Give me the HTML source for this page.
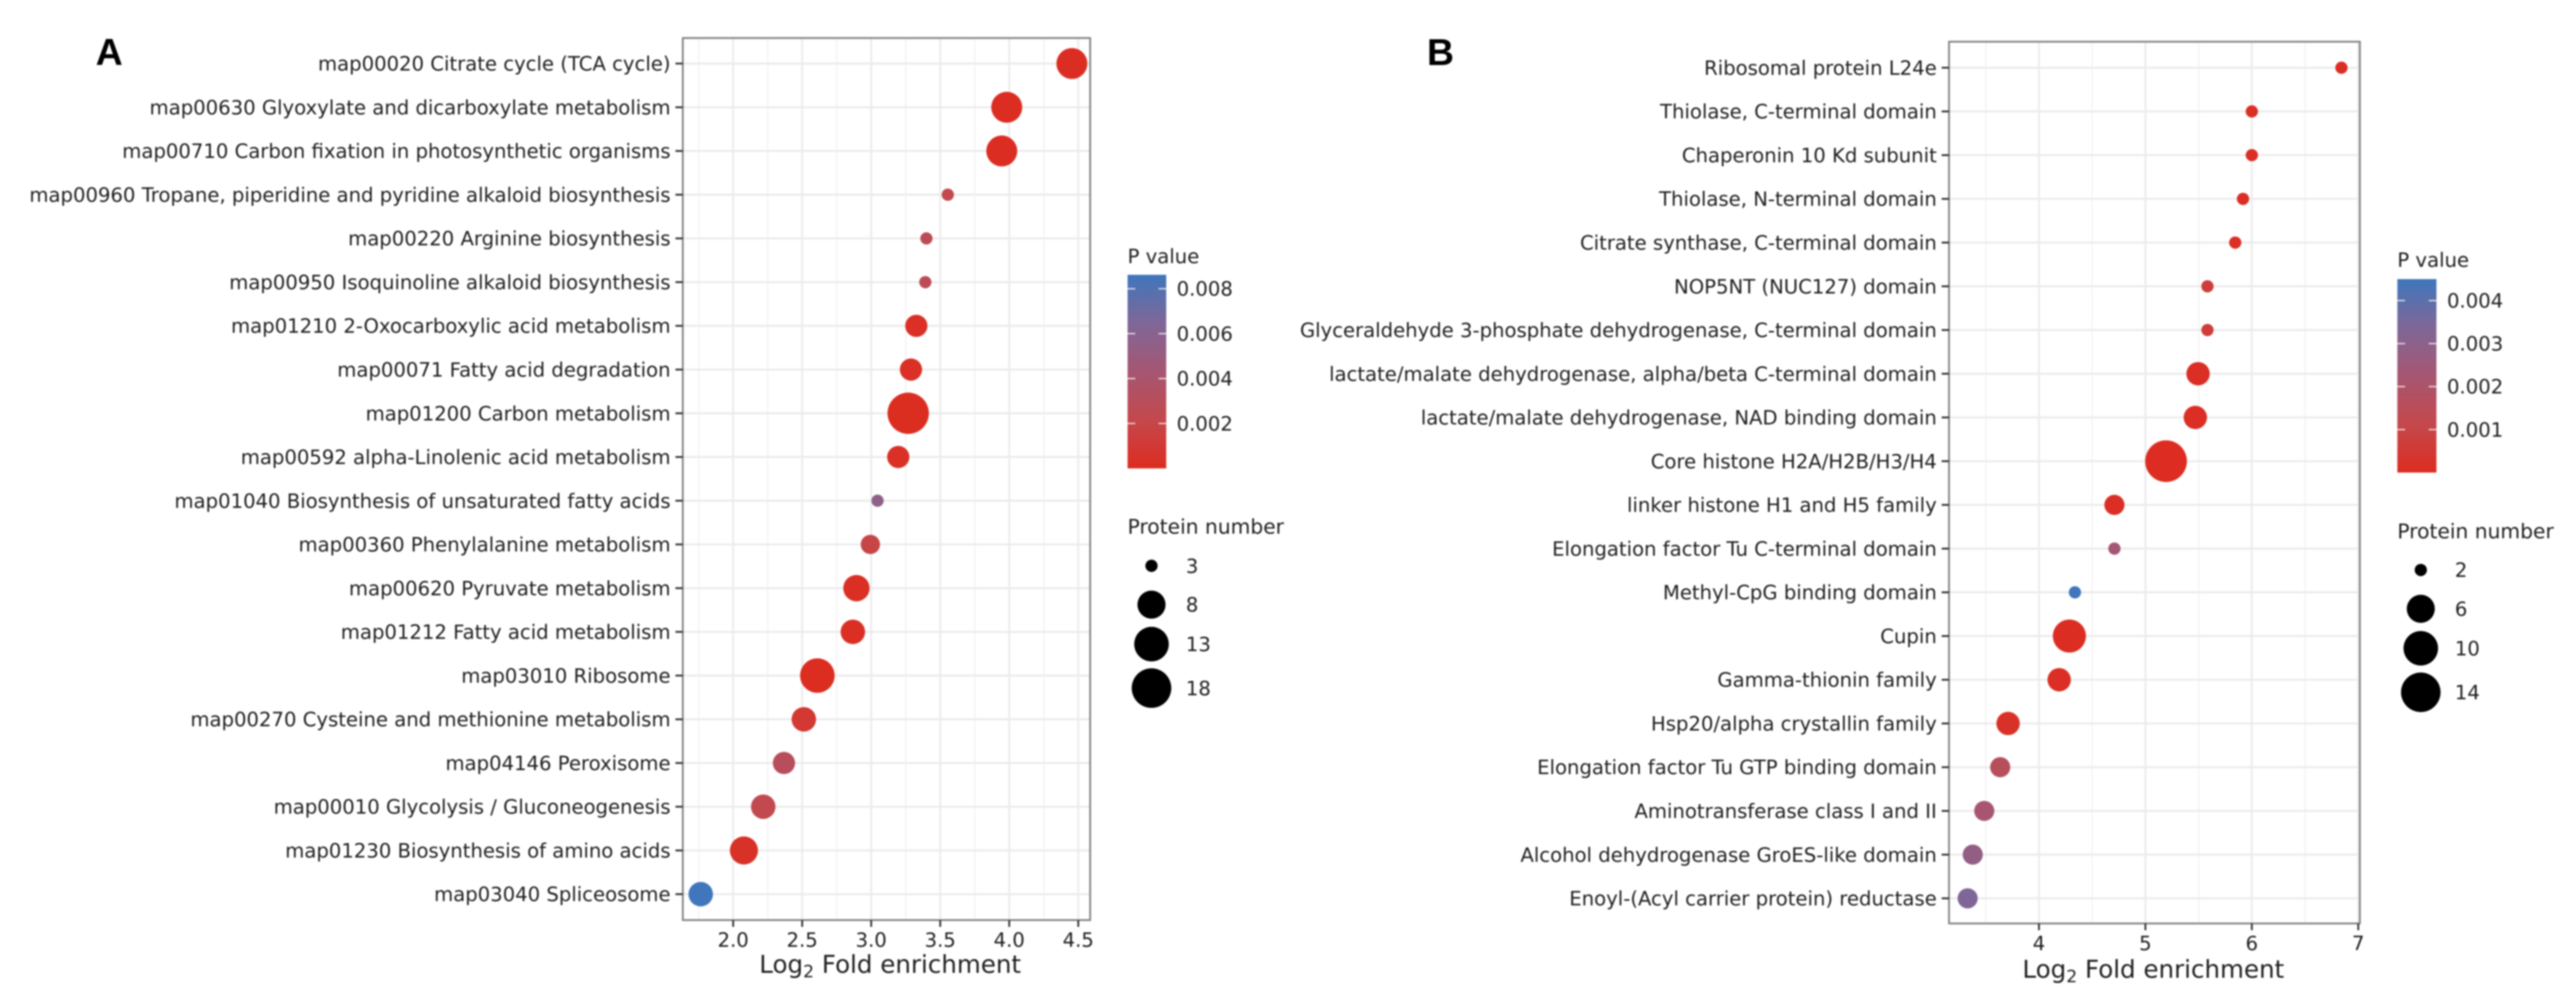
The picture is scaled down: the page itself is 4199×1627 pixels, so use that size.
<!DOCTYPE html>
<html lang="en">
<head>
<meta charset="utf-8">
<title>Enrichment bubble charts</title>
<style>
html,body{margin:0;padding:0;background:#fff}
svg{display:block;filter:blur(1.3px)}
text{font-family:"DejaVu Sans","Liberation Sans",sans-serif;fill:#1f1f1f}
</style>
</head>
<body>
<svg id="fig" xmlns="http://www.w3.org/2000/svg" width="4199" height="1627" viewBox="0 0 4199 1627">
  <defs>
    <linearGradient id="pGrad" x1="0" y1="1" x2="0" y2="0">
      <stop offset="0" stop-color="#dd2c20"/>
      <stop offset="0.25" stop-color="#c4484c"/>
      <stop offset="0.5" stop-color="#a65672"/>
      <stop offset="0.75" stop-color="#7f6797"/>
      <stop offset="1" stop-color="#3f76bc"/>
    </linearGradient>
  </defs>
  <rect width="4199" height="1627" fill="#fff"/>
  <text x="156" y="106" style="font-family:'Liberation Sans',sans-serif;font-weight:bold;font-size:61px;fill:#000">A</text>
  <text x="2326" y="106" style="font-family:'Liberation Sans',sans-serif;font-weight:bold;font-size:61px;fill:#000">B</text>
  <g id="panelA"></g>
  <g id="panelB"></g>
</svg>
<script>
/* ---------- Panel A data ---------- */
const categoriesA = [
  "map00020 Citrate cycle (TCA cycle)",
  "map00630 Glyoxylate and dicarboxylate metabolism",
  "map00710 Carbon fixation in photosynthetic organisms",
  "map00960 Tropane, piperidine and pyridine alkaloid biosynthesis",
  "map00220 Arginine biosynthesis",
  "map00950 Isoquinoline alkaloid biosynthesis",
  "map01210 2-Oxocarboxylic acid metabolism",
  "map00071 Fatty acid degradation",
  "map01200 Carbon metabolism",
  "map00592 alpha-Linolenic acid metabolism",
  "map01040 Biosynthesis of unsaturated fatty acids",
  "map00360 Phenylalanine metabolism",
  "map00620 Pyruvate metabolism",
  "map01212 Fatty acid metabolism",
  "map03010 Ribosome",
  "map00270 Cysteine and methionine metabolism",
  "map04146 Peroxisome",
  "map00010 Glycolysis / Gluconeogenesis",
  "map01230 Biosynthesis of amino acids",
  "map03040 Spliceosome"
];
const foldA = [4.454,3.982,3.946,3.555,3.40,3.392,3.327,3.288,3.268,3.196,3.046,2.994,2.893,2.867,2.61,2.512,2.368,2.218,2.078,1.765];
const countA = [10,10,10,3,3,3,5,5,20,5,3,4,7,6,13,6,5,6,8,6];
const pvalA = [0.0001,0.0001,0.0001,0.0023,0.0028,0.0028,0.0003,0.0003,0.00005,0.0003,0.0056,0.0019,0.0002,0.0002,0.00005,0.0009,0.003,0.0023,0.0004,0.0086];
const xTicksA = [2.0,2.5,3.0,3.5,4.0,4.5];
const xMinorA = [1.75,2.25,2.75,3.25,3.75,4.25];
const pBreaksA = [0.002,0.004,0.006,0.008];
const sizeBreaksA = [3,8,13,18];

/* ---------- Panel B data ---------- */
const categoriesB = [
  "Ribosomal protein L24e",
  "Thiolase, C-terminal domain",
  "Chaperonin 10 Kd subunit",
  "Thiolase, N-terminal domain",
  "Citrate synthase, C-terminal domain",
  "NOP5NT (NUC127) domain",
  "Glyceraldehyde 3-phosphate dehydrogenase, C-terminal domain",
  "lactate/malate dehydrogenase, alpha/beta C-terminal domain",
  "lactate/malate dehydrogenase, NAD binding domain",
  "Core histone H2A/H2B/H3/H4",
  "linker histone H1 and H5 family",
  "Elongation factor Tu C-terminal domain",
  "Methyl-CpG binding domain",
  "Cupin",
  "Gamma-thionin family",
  "Hsp20/alpha crystallin family",
  "Elongation factor Tu GTP binding domain",
  "Aminotransferase class I and II",
  "Alcohol dehydrogenase GroES-like domain",
  "Enoyl-(Acyl carrier protein) reductase"
];
const foldB = [6.842,6.0,6.0,5.917,5.844,5.583,5.583,5.495,5.469,5.194,4.709,4.709,4.338,4.286,4.19,3.71,3.636,3.486,3.378,3.33];
const countB = [2,2,2,2,2,2,2,4,4,16,3,2,2,9,4,4,3,3,3,3];
const pvalB = [0.0001,0.0001,0.0001,0.0001,0.0001,0.0007,0.0007,0.0001,0.0001,0.00002,0.0001,0.0023,0.0045,0.00005,0.0001,0.0002,0.0016,0.0022,0.0028,0.0034];
const xTicksB = [4,5,6,7];
const xMinorB = [3.5,4.5,5.5,6.5];
const pBreaksB = [0.001,0.002,0.003,0.004];
const sizeBreaksB = [2,6,10,14];

/* ---------- Shared colour ramp ---------- */
const rampPos = [0,0.25,0.5,0.75,1];
const rampRGB = [[221,44,32],[196,72,76],[166,86,114],[127,103,151],[63,118,188]];
function rampColor(t){
  t = Math.max(0,Math.min(1,t));
  let i = 0;
  while(i < rampPos.length-2 && t > rampPos[i+1]) i++;
  const f = (t-rampPos[i])/(rampPos[i+1]-rampPos[i]);
  const c = rampRGB[i].map((v,k)=>Math.round(v+(rampRGB[i+1][k]-v)*f));
  return 'rgb('+c.join(',')+')';
}

const NS = 'http://www.w3.org/2000/svg';
function mk(parent,tag,attrs,txt){
  const el = document.createElementNS(NS,tag);
  for(const k in attrs) el.setAttribute(k,attrs[k]);
  if(txt!==undefined) el.textContent = txt;
  parent.appendChild(el);
  return el;
}

function drawPanel(root,d,L){
  const x = v => L.x2 + (v-L.v2)*L.xPerUnit;
  const y = i => L.y0 + i*L.yStep;
  const r = n => L.rMin + (L.rMax-L.rMin)*Math.sqrt((n-L.nMin)/(L.nMax-L.nMin));
  const pc = p => rampColor(p/L.pTop);
  const n = d.cats.length;

  /* minor vertical grid */
  d.minor.forEach(v=>{
    const g = mk(root,'line',{x1:x(v),x2:x(v),y1:L.top,y2:L.bottom,stroke:'#f1f1f1','stroke-width':1.8});
    
    
  });
  /* major vertical grid */
  d.ticks.forEach(v=>{
    if(x(v)<L.left||x(v)>L.right) return;
    const g = mk(root,'line',{x1:x(v),x2:x(v),y1:L.top,y2:L.bottom,stroke:'#ebebeb','stroke-width':3});
    
    
  });
  /* horizontal grid */
  for(let i=0;i<n;i++){
    const g = mk(root,'line',{x1:L.left,x2:L.right,y1:y(i),y2:y(i),stroke:'#ebebeb','stroke-width':3.2});
    
    
  }
  /* points */
  for(let i=0;i<n;i++){
    const c = mk(root,'circle',{cx:x(d.fold[i]),cy:y(i),r:r(d.count[i]),fill:pc(d.pval[i])});
    
    
  }
  /* panel border */
  const b = mk(root,'rect',{x:L.left,y:L.top,width:L.right-L.left,height:L.bottom-L.top,fill:'none',stroke:'#858585','stroke-width':3});
  
  

  /* y axis */
  for(let i=0;i<n;i++){
    const tk = mk(root,'line',{x1:L.left-12,x2:L.left,y1:y(i),y2:y(i),stroke:'#333','stroke-width':3});
    
    
    const t = mk(root,'text',{x:L.labelRight,y:y(i)+11.5,'text-anchor':'end','font-size':L.fs},d.cats[i]);
    
    
  }
  /* x axis */
  d.ticks.forEach(v=>{
    const tk = mk(root,'line',{x1:x(v),x2:x(v),y1:L.bottom,y2:L.bottom+11,stroke:'#333','stroke-width':3});
    
    
    const t = mk(root,'text',{x:x(v),y:L.xLabelBase,'text-anchor':'middle','font-size':L.fs},L.tickFmt(v));
    
    
  });
  /* x axis title */
  const xt = mk(root,'text',{x:L.titleX,y:L.titleBase,'text-anchor':'middle','font-size':40});
  
  
  mk(xt,'tspan',{},'Log');
  mk(xt,'tspan',{'font-size':28,dy:7},'2');
  mk(xt,'tspan',{dy:-7},' Fold enrichment');

  /* colour legend */
  const lt = mk(root,'text',{x:L.cbX,y:L.cbTitleBase,'font-size':L.fs},'P value');
  
  
  const bar = mk(root,'rect',{x:L.cbX,y:L.cbTop,width:L.cbW,height:L.cbBottom-L.cbTop,fill:'url(#pGrad)'});
  
  
  const py = p => L.cbBottom - (p/L.pTop)*(L.cbBottom-L.cbTop);
  d.pBreaks.forEach(p=>{
    const t1 = mk(root,'line',{x1:L.cbX,x2:L.cbX+12.6,y1:py(p),y2:py(p),stroke:'#fff','stroke-opacity':0.85,'stroke-width':2});
    
    
    const t2 = mk(root,'line',{x1:L.cbX+L.cbW-12.6,x2:L.cbX+L.cbW,y1:py(p),y2:py(p),stroke:'#fff','stroke-opacity':0.85,'stroke-width':2});
    
    
    const t = mk(root,'text',{x:L.cbLabelX,y:py(p)+11.5,'font-size':L.fs},p.toFixed(3));
    
    
  });

  /* size legend */
  const st = mk(root,'text',{x:L.cbX,y:L.sizeTitleBase,'font-size':33},'Protein number');
  
  
  let ky = L.sizeY0;
  d.sizeBreaks.forEach((s,i)=>{
    if(i>0) ky += (i===1?63.3:i===2?64.4:71.7);
    const c = mk(root,'circle',{cx:L.sizeX,cy:ky,r:r(s),fill:'#000'});
    
    
    const t = mk(root,'text',{x:L.sizeLabelX,y:ky+11.5,'font-size':L.fs},String(s));
    
    
  });
}

drawPanel(document.getElementById('panelA'),
  {cats:categoriesA,fold:foldA,count:countA,pval:pvalA,ticks:xTicksA,minor:xMinorA,pBreaks:pBreaksA,sizeBreaks:sizeBreaksA},
  {left:1113,right:1777,top:62,bottom:1500,x2:1195.1,v2:2,xPerUnit:225,y0:103.6,yStep:71.27,
   rMin:10,rMax:33.7,nMin:3,nMax:20,pTop:0.00862,fs:32,labelRight:1093,xLabelBase:1543.5,
   tickFmt:v=>v.toFixed(1),titleX:1451,titleBase:1586,
   cbX:1838,cbW:63,cbTop:448,cbBottom:763.6,cbTitleBase:429,cbLabelX:1918,
   sizeTitleBase:870,sizeY0:922.4,sizeX:1877,sizeLabelX:1933});

drawPanel(document.getElementById('panelB'),
  {cats:categoriesB,fold:foldB,count:countB,pval:pvalB,ticks:xTicksB,minor:xMinorB,pBreaks:pBreaksB,sizeBreaks:sizeBreaksB},
  {left:3177,right:3846.7,top:68,bottom:1505.5,x2:3323.6,v2:4,xPerUnit:173.5,y0:110.4,yStep:71.27,
   rMin:10,rMax:34,nMin:2,nMax:16,pTop:0.0045,fs:32,labelRight:3157,xLabelBase:1549,
   tickFmt:v=>String(v),titleX:3510,titleBase:1593.8,
   cbX:3907.8,cbW:63.7,cbTop:455,cbBottom:770.4,cbTitleBase:435,cbLabelX:3988.7,
   sizeTitleBase:877.5,sizeY0:929.2,sizeX:3946,sizeLabelX:4001.5});
</script>
</body>
</html>
